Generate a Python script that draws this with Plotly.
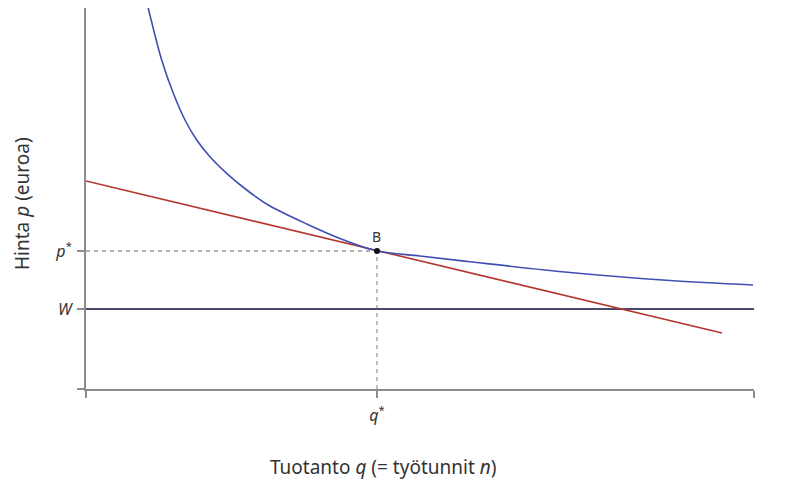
import plotly.graph_objects as go

# Data
iso_q = [0.924, 1.133, 1.307, 1.482, 1.657, 1.856, 2.106, 2.406, 2.729, 3.304, 3.802, 4.356, 5.000, 5.749, 7.246, 8.743, 9.985]
iso_p = [9.974, 8.568, 7.701, 7.005, 6.484, 6.049, 5.617, 5.182, 4.792, 4.297, 3.919, 3.594, 3.464, 3.315, 3.034, 2.826, 2.708]
demand_q = [0.0, 9.521]
demand_p = [5.417, 1.458]
W = 2.083
p_star = 3.594
q_star = 4.356
x_max = 10.0
y_max = 9.922
x_tick_vals = [q_star]
x_tick_text = ["<i>q</i><sup>*</sup>"]
x_minor_vals = [0, x_max]
y_tick_vals = [W, p_star]
y_tick_text = ["<i>W</i>", "<i>p</i><sup>*</sup>"]
y_minor_vals = [0]

FONT = "Noto Sans"
AXIS_C = "#8c8c8c"
TEXT_C = "#333333"

fig = go.Figure()

# dashed guides
fig.add_trace(go.Scatter(x=[0, q_star], y=[p_star, p_star], mode="lines",
                         line=dict(color="#9a9a9a", width=1.3, dash="4px,4px"),
                         hoverinfo="skip", showlegend=False))
fig.add_trace(go.Scatter(x=[q_star, q_star], y=[0, p_star], mode="lines",
                         line=dict(color="#9a9a9a", width=1.3, dash="4px,4px"),
                         hoverinfo="skip", showlegend=False))
# W line
fig.add_trace(go.Scatter(x=[0, x_max], y=[W, W], mode="lines",
                         line=dict(color="#4a4a68", width=2),
                         hoverinfo="skip", showlegend=False))
# demand line
fig.add_trace(go.Scatter(x=demand_q, y=demand_p, mode="lines",
                         line=dict(color="#b5372f", width=1.6),
                         hoverinfo="skip", showlegend=False))
# isoprofit curve
fig.add_trace(go.Scatter(x=iso_q, y=iso_p, mode="lines",
                         line=dict(color="#3f4fb4", width=1.6, shape="spline", smoothing=0.9),
                         hoverinfo="skip", showlegend=False))
# point B
fig.add_trace(go.Scatter(x=[q_star], y=[p_star], mode="markers",
                         marker=dict(color="#111111", size=6),
                         hoverinfo="skip", showlegend=False))

fig.add_annotation(x=q_star, y=p_star, text="B", showarrow=False,
                   yshift=14, font=dict(family=FONT, size=14, color=TEXT_C))

fig.add_annotation(xref="paper", yref="paper", x=0.4446, y=-0.2047,
                   text="Tuotanto <i>q</i> (= työtunnit <i>n</i>)", showarrow=False,
                   xanchor="center", yanchor="middle",
                   font=dict(family=FONT, size=19, color=TEXT_C))
fig.add_annotation(xref="paper", yref="paper", x=-0.0958, y=0.4856,
                   text="Hinta <i>p</i> (euroa)", showarrow=False, textangle=-90,
                   xanchor="center", yanchor="middle",
                   font=dict(family=FONT, size=19, color=TEXT_C))

fig.update_xaxes(range=[0, x_max], showgrid=False, zeroline=False,
                 showline=True, linecolor=AXIS_C, linewidth=2,
                 ticks="outside", ticklen=7, tickwidth=2, tickcolor=AXIS_C,
                 tickvals=x_tick_vals, ticktext=x_tick_text,
                 ticklabelstandoff=4,
                 minor=dict(tickvals=x_minor_vals, ticks="outside", ticklen=7,
                            tickwidth=2, tickcolor=AXIS_C, showgrid=False),
                 tickfont=dict(family=FONT, size=16, color=TEXT_C))
fig.update_yaxes(range=[0, y_max], showgrid=False, zeroline=False,
                 showline=True, linecolor=AXIS_C, linewidth=2,
                 ticks="outside", ticklen=7, tickwidth=2, tickcolor=AXIS_C,
                 tickvals=y_tick_vals, ticktext=y_tick_text,
                 ticklabelstandoff=2,
                 minor=dict(tickvals=y_minor_vals, ticks="outside", ticklen=7,
                            tickwidth=2, tickcolor=AXIS_C, showgrid=False),
                 tickfont=dict(family=FONT, size=16, color=TEXT_C))

fig.update_layout(width=810, height=500,
                  margin=dict(l=78, r=64, t=0, b=119),
                  plot_bgcolor="white", paper_bgcolor="white",
                  showlegend=False)

fig.write_html("out.html")
